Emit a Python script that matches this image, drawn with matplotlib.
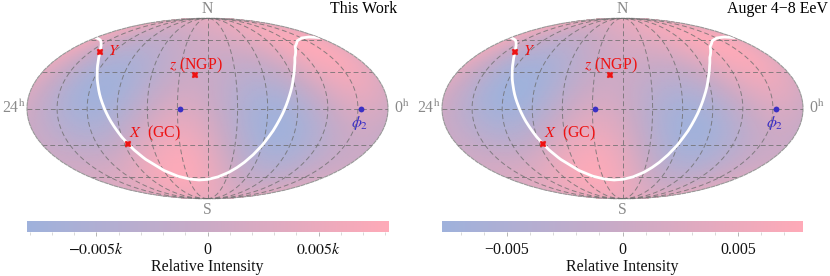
import numpy as np
import matplotlib
matplotlib.use("Agg")
import matplotlib.pyplot as plt
from matplotlib.colors import LinearSegmentedColormap

plt.rcParams['font.family'] = ['Liberation Serif', 'DejaVu Serif']
plt.rcParams['mathtext.fontset'] = 'stix'

# Sky grid of the estimated intensity (units of 1e-3), rows north to south
LON_DEG = [-180, -150, -120, -90, -60, -30, 0, 30, 60, 90, 120, 150]
LAT_DEG = [90, 75, 60, 45, 30, 15, 0, -15, -30, -45, -60, -75, -90]
THIS_WORK = [
    [4.3] * 12,
    [5.2, 3.7, 2.4, 1.7, 1.7, 2.2, 2.9, 3.8, 4.7, 5.6, 6.2, 6.1],
    [5.4, 2.3, -.5, -1.5, -.9, .4, 1.5, 2.3, 3.5, 5.3, 7.0, 7.2],
    [4.8, .3, -3.5, -4.4, -2.7, -.5, .4, .3, 1.1, 3.5, 6.4, 7.3],
    [3.7, -1.7, -6.0, -6.2, -3.3, -.5, -.2, -1.7, -2.0, .6, 4.6, 6.3],
    [2.3, -3.2, -7.2, -6.5, -2.5, .6, 0, -3.2, -4.9, -2.6, 2.0, 4.6],
    [.9, -3.7, -6.7, -5.2, -.6, 2.5, .9, -3.7, -6.7, -5.2, -.6, 2.5],
    [0, -3.2, -4.9, -2.6, 2.0, 4.6, 2.3, -3.2, -7.2, -6.5, -2.5, .6],
    [-.2, -1.7, -2.0, .6, 4.6, 6.3, 3.7, -1.7, -6.0, -6.2, -3.3, -.5],
    [.4, .3, 1.1, 3.5, 6.4, 7.3, 4.8, .3, -3.5, -4.4, -2.7, -.5],
    [1.5, 2.3, 3.5, 5.3, 7.0, 7.2, 5.4, 2.3, -.5, -1.5, -.9, .4],
    [2.9, 3.8, 4.7, 5.6, 6.2, 6.1, 5.2, 3.7, 2.4, 1.7, 1.7, 2.2],
    [4.3] * 12,
]
AUGER = [
    [4.5] * 12,
    [5.2, 3.7, 2.6, 2.0, 2.0, 2.6, 3.4, 4.3, 5.2, 5.9, 6.2, 5.9],
    [5.0, 2.1, -.5, -1.5, -.7, .8, 2.0, 3.0, 4.4, 6.0, 7.0, 6.6],
    [4.0, .0, -3.6, -4.5, -2.7, -.3, .8, 1.0, 2.0, 4.4, 6.6, 6.2],
    [2.9, -2.0, -6.0, -6.4, -3.5, -.6, .0, -1.0, -1.0, 1.6, 5.0, 5.2],
    [1.6, -3.6, -7.2, -6.8, -3.0, .2, .2, -2.6, -4.0, -1.8, 2.2, 3.6],
    [.6, -4.0, -6.8, -5.6, -1.0, 2.0, 1.0, -3.4, -6.4, -5.0, -.8, 1.8],
    [.2, -3.2, -4.8, -2.8, 1.6, 4.2, 2.4, -3.2, -7.2, -6.7, -2.8, .2],
    [.4, -1.4, -1.8, .6, 4.4, 6.0, 3.8, -1.8, -6.2, -6.3, -3.2, -.4],
    [1.2, .8, 1.4, 3.6, 6.2, 7.0, 4.9, .2, -3.7, -4.4, -2.4, -.2],
    [2.2, 2.8, 3.8, 5.3, 6.8, 6.9, 5.2, 2.2, -.6, -1.4, -.6, .8],
    [3.4, 4.1, 4.8, 5.6, 6.0, 5.8, 4.9, 3.5, 2.4, 1.8, 2.0, 2.6],
    [4.3] * 12,
]
PLANE_LON = [-180, -165, -157.5, -150, -142.5, -135, -127.5, -120, -112.5, -105, -97.5, -90, -82.5, -75,
             -60, -45, -30, -15, 0, 15, 30, 37.5, 45, 52.5, 60, 67.5, 75, 82.5, 90, 97.5, 105,
             120, 135, 150, 165, 180]
PLANE_LAT = [62.3, 59.9, 57.8, 55.0, 51.2, 46.1, 39.1, 29.9, 18.1, 4.2, -10.3, -23.5, -34.2, -42.4,
             -53.0, -58.8, -61.8, -62.9, -62.3, -59.9, -55.0, -51.2, -46.1, -39.1, -29.9, -18.1, -4.2, 10.3, 23.5, 34.2, 42.4,
             53.0, 58.8, 61.8, 62.9, 62.3]
AXIS_LON = [-86.4, -138.0, -12.9]      # X, Y, z
AXIS_LAT = [-29.0, 48.3, 27.1]
PHASE_LON = [-27.3, 152.7]
PHASE_LAT = [0.0, 0.0]
PANEL_TITLES = ["This Work", "Auger 4\u22128 EeV"]
TICKS_LEFT = ["$-0.005k$", "0", "$0.005k$"]
TICKS_RIGHT = ["\u22120.005", "0", "0.005"]
LIMITS = [8.12, 7.8]

W, H = 830, 276
cmap = LinearSegmentedColormap.from_list("ri", ["#9fb2dc", "#cbaac6", "#ffaab8"])
fig = plt.figure(figsize=(W / 100, H / 100), dpi=100, facecolor="white")
GREY = "#8a8a8a"


def smooth_field(table, lon_f, lat_f):
    """Low-order surface through the read-off grid, for a continuous shading."""
    lo, la = np.meshgrid(np.radians(LON_DEG), np.radians(LAT_DEG))
    def basis(lo, la):
        x, y, z = np.cos(la) * np.cos(lo), np.cos(la) * np.sin(lo), np.sin(la)
        return np.stack([x * x, y * y, z * z, x * y, x * z, y * z, x, y, z], -1)
    coef = np.linalg.lstsq(basis(lo, la).reshape(-1, 9), np.asarray(table, float).ravel(), rcond=None)[0]
    return basis(lon_f, lat_f) @ coef


def px_text(x, y, s, **kw):
    kw.setdefault("ha", "center")
    kw.setdefault("va", "center")
    fig.text(x / W, 1 - y / H, s, **kw)


lon_f, lat_f = np.meshgrid(np.radians(np.linspace(-180, 180, 241)), np.radians(np.linspace(-89.9, 89.9, 121)))
for i, (x0, table) in enumerate(zip([27, 442], [THIS_WORK, AUGER])):
    lim = LIMITS[i]
    ax = fig.add_axes([x0 / W, 1 - 199 / H, 361 / W, 181 / H], projection="mollweide")
    ax.pcolormesh(lon_f, lat_f, smooth_field(table, lon_f, lat_f), cmap=cmap, vmin=-lim, vmax=lim,
                  shading="gouraud", rasterized=True, zorder=1)
    ax.set_longitude_grid(30)
    ax.set_latitude_grid(30)
    ax.set_longitude_grid_ends(90)
    ax.set_xticklabels([])
    ax.set_yticklabels([])
    ax.grid(True, color="#6f6f6f", lw=0.7, ls=(0, (5, 3)), alpha=0.8, zorder=2)
    ax.set_axisbelow(False)
    for s in ax.spines.values():
        s.set_edgecolor("#999999")
        s.set_linestyle((0, (3, 1.5)))
        s.set_linewidth(0.8)
    ax.plot(np.radians(PLANE_LON), np.radians(PLANE_LAT), color="white", lw=2.0, zorder=3)
    ax.plot(np.radians(AXIS_LON), np.radians(AXIS_LAT), ls="", marker="X", color="#ee1111", ms=5,
            mec="#ee1111", mew=0.3, zorder=5)
    ax.plot(np.radians(PHASE_LON), np.radians(PHASE_LAT), ls="", marker="o", color="#3a2fc4", ms=4.2,
            mew=0, zorder=5)

    fs = 11.4
    px_text(x0 + 180.5, 9, "N", color=GREY, fontsize=fs)
    px_text(x0 + 180.5, 210, "S", color=GREY, fontsize=fs)
    px_text(x0 - 1, 108.5, r"24$^{\mathrm{h}}$", color=GREY, fontsize=fs, ha="right")
    px_text(x0 + 367, 108.5, r"0$^{\mathrm{h}}$", color=GREY, fontsize=fs, ha="left")
    px_text(x0 + 81, 51, "$Y$", color="#ee1111", fontsize=fs, ha="left")
    px_text(x0 + 168.5, 65, "$z$ (NGP)", color="#ee1111", fontsize=fs)
    px_text(x0 + 102, 133, r"$X$  (GC)", color="#ee1111", fontsize=fs, ha="left")
    px_text(x0 + 333, 122.5, r"$\phi_2$", color="#3a2fc4", fontsize=fs)
    px_text(397 if i == 0 else 828, 9, PANEL_TITLES[i], color="black", fontsize=fs, ha="right")

    cax = fig.add_axes([x0 / W, 1 - 232 / H, 361 / W, 11.5 / H])
    cax.imshow(np.linspace(-lim, lim, 256)[None, :], extent=[-lim, lim, 0, 1], aspect="auto",
               cmap=cmap, vmin=-lim, vmax=lim)
    for s in cax.spines.values():
        s.set_visible(False)
    cax.set_yticks([])
    cax.set_xticks([-5, 0, 5])
    cax.set_xticklabels(TICKS_LEFT if i == 0 else TICKS_RIGHT, fontsize=fs, color="#111111")
    cax.set_xticks([v for v in range(-8, 9) if v % 5 and abs(v) <= lim], minor=True)
    cax.tick_params(axis="x", which="major", length=3.2, width=0.5, color="#999999", pad=4.0)
    cax.tick_params(axis="x", which="minor", length=1.8, width=0.4, color="#bbbbbb")
    px_text(x0 + 180.5, 267, "Relative Intensity", color="#111111", fontsize=fs)

fig.savefig("out.png", dpi=100, facecolor="white")
